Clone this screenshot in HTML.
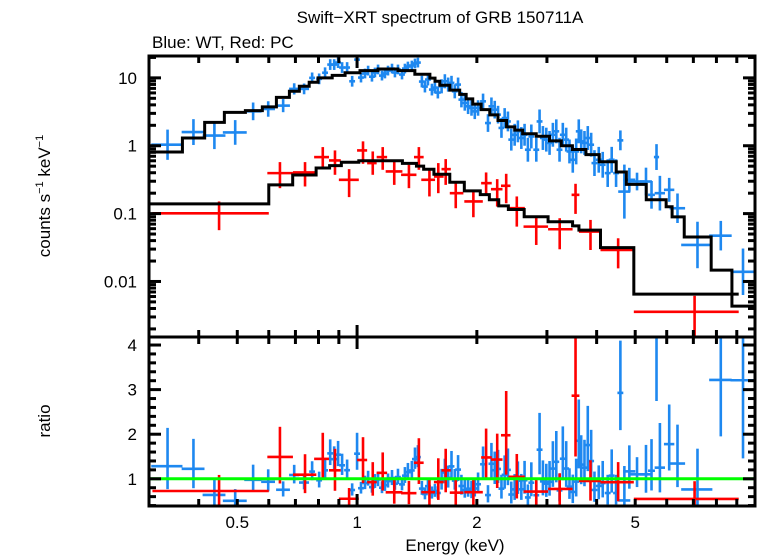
<!DOCTYPE html>
<html><head><meta charset="utf-8"><style>
html,body{margin:0;padding:0;background:#fff;}
svg{display:block;font-family:"Liberation Sans",sans-serif;}
</style></head><body>
<svg id="chart" width="758" height="556" viewBox="0 0 758 556" xmlns="http://www.w3.org/2000/svg">
<text x="440" y="23" font-size="17" text-anchor="middle">Swift−XRT spectrum of GRB 150711A</text>
<text x="152" y="48" font-size="17">Blue: WT, Red: PC</text>
<text transform="translate(50,196) rotate(-90)" font-size="17" text-anchor="middle">counts s<tspan font-size="11" dy="-7">−1</tspan><tspan dy="7"> keV</tspan><tspan font-size="11" dy="-7">−1</tspan></text>
<text transform="translate(50,421) rotate(-90)" font-size="17" text-anchor="middle">ratio</text>
<text x="455" y="551" font-size="17" text-anchor="middle">Energy (keV)</text>
<g id="marks"></g>
<g id="axes"></g>
</svg>
<script>
// ---- axes ranges ----
const xMin = 0.3, xMax = 10;
const yTopMin = 0.00152, yTopMax = 21;
const yRatMin = 0.39, yRatMax = 4.18;
const xTickLabels = ["0.5","1","2","5"];
const xTickVals = [0.5,1,2,5];
const yTopTickVals = [0.01,0.1,1,10];
const yTopTickLabels = ["0.01","0.1","1","10"];
const yRatTickVals = [1,2,3,4];
const yRatTickLabels = ["1","2","3","4"];

// ---- PC (red) data ----
const pcE  = [0.45,0.64,0.74,0.82,0.88,0.955,1.035,1.095,1.16,1.24,1.35,1.43,1.52,1.60,1.67,1.77,1.96,2.11,2.25,2.37,2.52,2.82,3.23,3.54,3.86,4.53,7.05];
const pcLo = [0.306,0.595,0.69,0.78,0.85,0.90,1.0,1.06,1.12,1.18,1.29,1.39,1.45,1.56,1.63,1.71,1.86,2.05,2.17,2.30,2.40,2.62,3.02,3.46,3.61,4.09,4.96];
const pcHi = [0.6,0.69,0.79,0.85,0.91,1.01,1.06,1.12,1.19,1.30,1.41,1.47,1.57,1.65,1.72,1.85,2.07,2.18,2.32,2.43,2.64,3.02,3.48,3.62,4.1,4.96,9.1];
const pcV  = [0.101,0.395,0.404,0.68,0.607,0.315,0.853,0.555,0.68,0.418,0.373,0.68,0.315,0.352,0.452,0.2,0.151,0.281,0.229,0.257,0.12,0.0643,0.0588,0.189,0.0543,0.0291,0.00357];
const pcVLo= [0.057,0.237,0.251,0.468,0.373,0.175,0.542,0.373,0.442,0.265,0.237,0.442,0.179,0.2,0.265,0.12,0.0884,0.189,0.127,0.142,0.0643,0.0345,0.0298,0.099,0.0291,0.0156,0.0009];
const pcVHi= [0.151,0.574,0.574,0.955,0.853,0.452,1.16,0.824,0.955,0.607,0.524,0.955,0.452,0.555,0.636,0.297,0.212,0.404,0.322,0.386,0.179,0.0925,0.0855,0.275,0.0807,0.0433,0.00615];
// PC model
const pcModelEdges = [0.3,0.6,0.689,0.789,0.853,0.913,1.01,1.30,1.41,1.47,1.56,1.71,1.86,2.04,2.15,2.27,2.40,2.63,3.02,3.48,3.61,4.09,4.96,9.1];
const pcModelV = [0.139,0.265,0.37,0.47,0.51,0.57,0.6,0.55,0.5,0.45,0.38,0.29,0.216,0.19,0.16,0.13,0.115,0.09,0.076,0.066,0.057,0.0315,0.0065];

// ---- WT (blue) data ----
const wtE = [0.334,0.388,0.438,0.494,0.548,0.598,0.652,0.695,0.736,
0.771,0.803,0.831,0.856,0.876,0.896,0.917,0.944,0.972,1.0,1.023,1.047,1.066,1.090,1.109,1.129,1.155,1.175,1.196,1.224,1.245,1.267,1.297,1.319,1.342,1.373,1.398,1.422,1.455,1.481,1.507,1.542,1.569,1.596,
1.631,1.662,1.694,1.727,1.760,1.794,1.829,1.865,1.901,1.939,1.976,2.014,2.073,2.133,2.176,2.218,2.261,2.306,2.349,2.394,2.441,2.489,2.536,2.587,2.636,2.687,2.741,2.821,2.875,2.931,2.989,3.046,3.105,3.167,3.227,3.289,3.354,3.418,3.484,3.553,3.607,3.658,3.728,3.800,3.875,3.950,4.049,4.143,4.264,4.364,4.476,4.589,
4.696,4.833,5.053,5.322,5.495,5.656,5.768,6.087,6.386,7.169,8.204,9.33];
const wtV = [1.035,1.59,1.41,1.57,3.21,3.48,3.90,6.88,6.88,
10.0,9.67,11.9,15.7,15.7,16.8,14.2,14.2,8.91,18.6,10.1,11.6,12.8,10.4,12.0,13.3,10.8,11.6,12.8,13.7,12.0,13.3,11.2,13.7,14.7,15.2,16.3,16.8,8.82,7.44,9.44,6.72,7.19,6.07,
7.51,8.91,7.96,8.44,6.34,7.96,4.78,4.27,3.81,3.60,3.21,3.60,4.51,2.16,3.81,3.40,2.87,1.83,2.56,2.28,1.23,1.45,1.63,1.30,1.45,0.873,1.37,0.873,2.28,1.30,1.23,1.10,1.45,1.63,0.873,1.45,1.23,0.824,0.621,0.824,1.63,1.16,1.10,1.30,1.035,0.555,0.621,0.524,0.395,0.621,0.395,1.20,
0.211,0.315,0.297,0.297,0.189,0.681,0.2,0.224,0.120,0.0345,0.0473,0.0139];
const wtHW = [0.09,0.066,0.066,0.069,0.05,0.04,0.04,0.029,0.029,
0.017,0.017,0.017,0.017,0.017,0.017,0.017,0.017,0.017,0.017,0.017,0.017,0.017,0.017,0.017,0.017,0.017,0.017,0.017,0.017,0.017,0.017,0.017,0.017,0.017,0.017,0.017,0.017,0.017,0.017,0.017,0.017,0.017,0.017,
0.017,0.017,0.017,0.017,0.017,0.017,0.017,0.017,0.017,0.017,0.017,0.017,0.017,0.017,0.017,0.017,0.017,0.017,0.017,0.017,0.017,0.017,0.017,0.017,0.017,0.017,0.017,0.017,0.017,0.017,0.017,0.017,0.017,0.017,0.017,0.017,0.017,0.017,0.017,0.017,0.017,0.017,0.017,0.017,0.017,0.017,0.017,0.017,0.017,0.017,0.017,0.017,
0.035,0.035,0.045,0.035,0.02,0.015,0.03,0.03,0.045,0.09,0.065,0.07];
const wtErr = [1.67,1.55,1.58,1.52,1.35,1.30,1.25,1.21,1.20,
1.2,1.2,1.2,1.2,1.2,1.2,1.2,1.2,1.2,1.3,1.18,1.18,1.18,1.18,1.18,1.18,1.18,1.18,1.18,1.18,1.18,1.18,1.18,1.18,1.18,1.18,1.18,1.18,1.22,1.22,1.22,1.22,1.22,1.22,
1.27,1.27,1.27,1.27,1.27,1.27,1.3,1.3,1.3,1.3,1.3,1.3,1.3,1.35,1.35,1.35,1.35,1.4,1.4,1.4,1.45,1.45,1.45,1.45,1.45,1.5,1.5,1.5,1.5,1.5,1.5,1.5,1.5,1.5,1.5,1.5,1.5,1.5,1.55,1.55,1.5,1.5,1.5,1.5,1.5,1.55,1.55,1.55,1.6,1.55,1.6,1.4,
2.5,1.5,1.35,1.6,1.6,1.55,1.8,1.5,1.65,2.2,1.65,2.2];
// WT model
const wtModelEdges = [0.303,0.364,0.414,0.464,0.524,0.578,0.627,0.676,0.716,0.758,0.798,0.866,0.933,1.017,1.129,1.267,1.397,1.524,1.57,1.614,1.71,1.811,1.88,1.953,2.05,2.155,2.26,2.375,2.49,2.607,2.82,3.045,3.26,3.477,3.76,4.06,4.48,4.75,5.33,5.98,6.19,6.64,7.76,8.75,9.94];
const wtModelV = [0.807,1.30,2.21,3.10,3.29,3.73,5.17,6.34,7.51,8.61,10.0,10.9,11.9,12.8,13.5,12.8,11.3,9.9,8.9,7.8,6.6,5.7,4.9,4.1,3.4,2.85,2.35,1.9,1.7,1.5,1.38,1.18,1.0,0.88,0.74,0.58,0.41,0.27,0.16,0.126,0.0894,0.0453,0.0147,0.00433];

// ---- geometry ----
const L=149, R=755, T=56, M=337, B=506;
const NS="http://www.w3.org/2000/svg";
const lx = e => L + (Math.log10(e)-Math.log10(xMin))/(Math.log10(xMax)-Math.log10(xMin))*(R-L);
const ly = v => T + (Math.log10(yTopMax)-Math.log10(v))/(Math.log10(yTopMax)-Math.log10(yTopMin))*(M-T);
const ry = v => M + (yRatMax-v)/(yRatMax-yRatMin)*(B-M);
const clipT = y => Math.max(T, Math.min(M, y));
const marks = document.getElementById('marks');
const axes = document.getElementById('axes');
function mk(tag, attrs, parent){
  const el = document.createElementNS(NS, tag);
  for (const k in attrs) el.setAttribute(k, attrs[k]);
  parent.appendChild(el);
  return el;
}
function modelAt(edges, vals, e){
  for (let i=0;i<vals.length;i++) if (e>=edges[i] && e<edges[i+1]) return vals[i];
  return vals[e<edges[0]?0:vals.length-1];
}
function stepPath(edges, vals){
  let d = '';
  for (let i=0;i<vals.length;i++){
    const y = clipT(ly(vals[i]));
    d += (i===0?'M':'L') + lx(edges[i]) + ' ' + y + ' L' + lx(edges[i+1]) + ' ' + y + ' ';
  }
  return d;
}
function cross(g, x1, x2, xc, y, y1, y2, color, w){
  mk('line',{x1:x1,x2:x2,y1:y,y2:y,stroke:color,'stroke-width':w},g);
  mk('line',{x1:xc,x2:xc,y1:y1,y2:y2,stroke:color,'stroke-width':w},g);
}
const defs = mk('defs',{},document.getElementById('chart'));
const cp1 = mk('clipPath',{id:'cTop'},defs); mk('rect',{x:L,y:T,width:R-L,height:M-T},cp1);
const cp2 = mk('clipPath',{id:'cBot'},defs); mk('rect',{x:L,y:M,width:R-L,height:B-M},cp2);

// ---- WT series ----
const gWT = mk('g',{'clip-path':'url(#cTop)'},marks);


const gWTr = mk('g',{'clip-path':'url(#cBot)'},marks);


for (let i=0;i<wtE.length;i++){
  const e=wtE[i], v=wtV[i], f=wtErr[i], h=wtHW[i];
  const x1=lx(e*(1-h)), x2=lx(e*(1+h)), xc=lx(e);
  const g = mk('g',{},gWT);
  
  
  cross(g,x1,x2,xc,ly(v),ly(v*f),ly(v/f),'#1e88f0',2.6);
  const m = modelAt(wtModelEdges, wtModelV, e);
  const r = v/m;
  const g2 = mk('g',{},gWTr);
  
  
  cross(g2,x1,x2,xc,ry(r),ry(r*f),ry(r/f),'#1e88f0',2.6);
}
// ---- PC series ----
const gPC = mk('g',{'clip-path':'url(#cTop)'},marks);


const gPCr = mk('g',{'clip-path':'url(#cBot)'},marks);


for (let i=0;i<pcE.length;i++){
  const x1=lx(pcLo[i]), x2=lx(pcHi[i]), xc=lx(pcE[i]);
  const g = mk('g',{},gPC);
  
  
  cross(g,x1,x2,xc,ly(pcV[i]),ly(pcVHi[i]),ly(pcVLo[i]),'#ff0000',2.6);
  const m = modelAt(pcModelEdges, pcModelV, pcE[i]);
  const g2 = mk('g',{},gPCr);
  
  
  cross(g2,x1,x2,xc,ry(pcV[i]/m),ry(pcVHi[i]/m),ry(pcVLo[i]/m),'#ff0000',2.6);
}
// ---- models ----
const wm = mk('path',{d:stepPath(wtModelEdges,wtModelV),fill:'none',stroke:'#000','stroke-width':3,'clip-path':'url(#cTop)'},marks);


const pm = mk('path',{d:stepPath(pcModelEdges,pcModelV),fill:'none',stroke:'#000','stroke-width':3,'clip-path':'url(#cTop)'},marks);


const unity = mk('line',{x1:L,x2:R,y1:ry(1),y2:ry(1),stroke:'#00ff00','stroke-width':3},marks);



// ---- frame & ticks ----
const frame = mk('g',{stroke:'#000','stroke-width':3,fill:'none'},axes);


mk('rect',{x:L,y:T,width:R-L,height:B-T},frame);
mk('line',{x1:L,x2:R,y1:M,y2:M},frame);
for (let d=0.1; d<10; d*=10){
  for (let k=1;k<10;k++){
    const e = +(k*d).toFixed(3);
    if (e<xMin || e>xMax) continue;
    const x = lx(e), len = (k===1)?12:7;
    [T, B].forEach(y0 => mk('line',{x1:x,x2:x,y1:y0,y2:y0+(y0===T?len:-len)},frame));
    mk('line',{x1:x,x2:x,y1:M-len,y2:M+len},frame);
  }
}
xTickVals.forEach((e,i)=>{
  const t = mk('text',{x:lx(e),y:528,'font-size':17,'text-anchor':'middle',stroke:'none',fill:'#000'},axes);
  t.textContent = xTickLabels[i];
  
  
});
for (let d=0.001; d<100; d*=10){
  for (let k=1;k<10;k++){
    const v = k*d;
    if (v<yTopMin || v>yTopMax) continue;
    const y = ly(v), len = (k===1)?12:7;
    mk('line',{x1:L,x2:L+len,y1:y,y2:y},frame);
    mk('line',{x1:R,x2:R-len,y1:y,y2:y},frame);
  }
}
yTopTickVals.forEach((v,i)=>{
  const t = mk('text',{x:137,y:ly(v)+6,'font-size':17,'text-anchor':'end',stroke:'none',fill:'#000'},axes);
  t.textContent = yTopTickLabels[i];
  
  
});
for (let v=0.4; v<=4.18; v+=0.2){
  const vv = Math.round(v*10)/10;
  const major = Math.abs(vv-Math.round(vv))<1e-6;
  const y = ry(vv), len = major?12:7;
  mk('line',{x1:L,x2:L+len,y1:y,y2:y},frame);
  mk('line',{x1:R,x2:R-len,y1:y,y2:y},frame);
}
yRatTickVals.forEach((v,i)=>{
  const t = mk('text',{x:137,y:ry(v)+6,'font-size':17,'text-anchor':'end',stroke:'none',fill:'#000'},axes);
  t.textContent = yRatTickLabels[i];
  
  
});
</script>
</body></html>
